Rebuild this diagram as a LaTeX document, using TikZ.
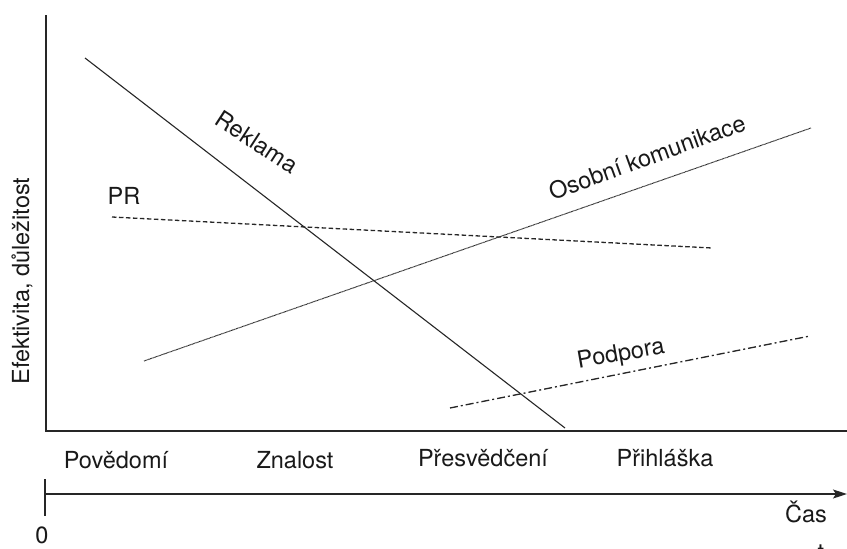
\documentclass[tikz,border=0pt]{standalone}
\usepackage{fontspec}
\setmainfont{TeX Gyre Heros}
\usetikzlibrary{arrows.meta}
\begin{document}
\begin{tikzpicture}[x=1pt,y=-1pt,
  lbl/.style={font=\fontsize{23.5}{25}\selectfont, inner sep=0pt, text=black!90},
  axis/.style={line width=1.4pt, black!85},
  reklama/.style={line width=1.1pt, black!85},
  prline/.style={line width=1.3pt, black!85, dash pattern=on 4.5pt off 2.5pt},
  osline/.style={line width=1pt, black!85, dash pattern=on 0.8pt off 0.5pt},
  podline/.style={line width=1.3pt, black!85, dash pattern=on 8pt off 3pt on 2pt off 3pt}]
\useasboundingbox (0,0) rectangle (847,549);
% axes
\coordinate (ytop) at (46,15);
\coordinate (orig) at (46,431);
\coordinate (xend) at (847,431);
\draw[axis] (ytop) -- (orig) -- (xend);
% time axis
\coordinate (tstart) at (46,494);
\coordinate (tend) at (847,494);
\coordinate (tickA) at (45,479);
\coordinate (tickB) at (45,516);
\draw[axis, -{Stealth[length=14pt,width=9pt,inset=3pt]}] (tstart) -- (tend);
\draw[axis] (tickA) -- (tickB);
% curves
\coordinate (rA) at (85,58);
\coordinate (rB) at (565,428);
\draw[reklama] (rA) -- (rB);
\coordinate (pA) at (112,217);
\coordinate (pB) at (712,248);
\draw[prline] (pA) -- (pB);
\coordinate (oA) at (144,361);
\coordinate (oB) at (811,128);
\draw[osline] (oA) -- (oB);
\coordinate (dA) at (450,408);
\coordinate (dB) at (810,336);
\draw[podline] (dA) -- (dB);
% labels
\node[lbl, rotate=-33] (lrek) at (257,142) {Reklama};
\node[lbl] (lpr) at (124,196) {PR};
\node[lbl, rotate=20] (los) at (647,157) {Osobní komunikace};
\node[lbl, rotate=10] (lpod) at (621,355) {Podpora};
\node[lbl, rotate=90] (lyax) at (22,281) {Efektivita, důležitost};
\node[lbl] (l1) at (116,460) {Povědomí};
\node[lbl] (l2) at (295,460) {Znalost};
\node[lbl] (l3) at (483,458) {Přesvědčení};
\node[lbl] (l4) at (665,458) {Přihláška};
\node[lbl] (l0) at (42,535) {0};
\node[lbl] (lcas) at (806,512) {Čas};
\node[lbl] (lt) at (821,553) {t};
\end{tikzpicture}
\end{document}
